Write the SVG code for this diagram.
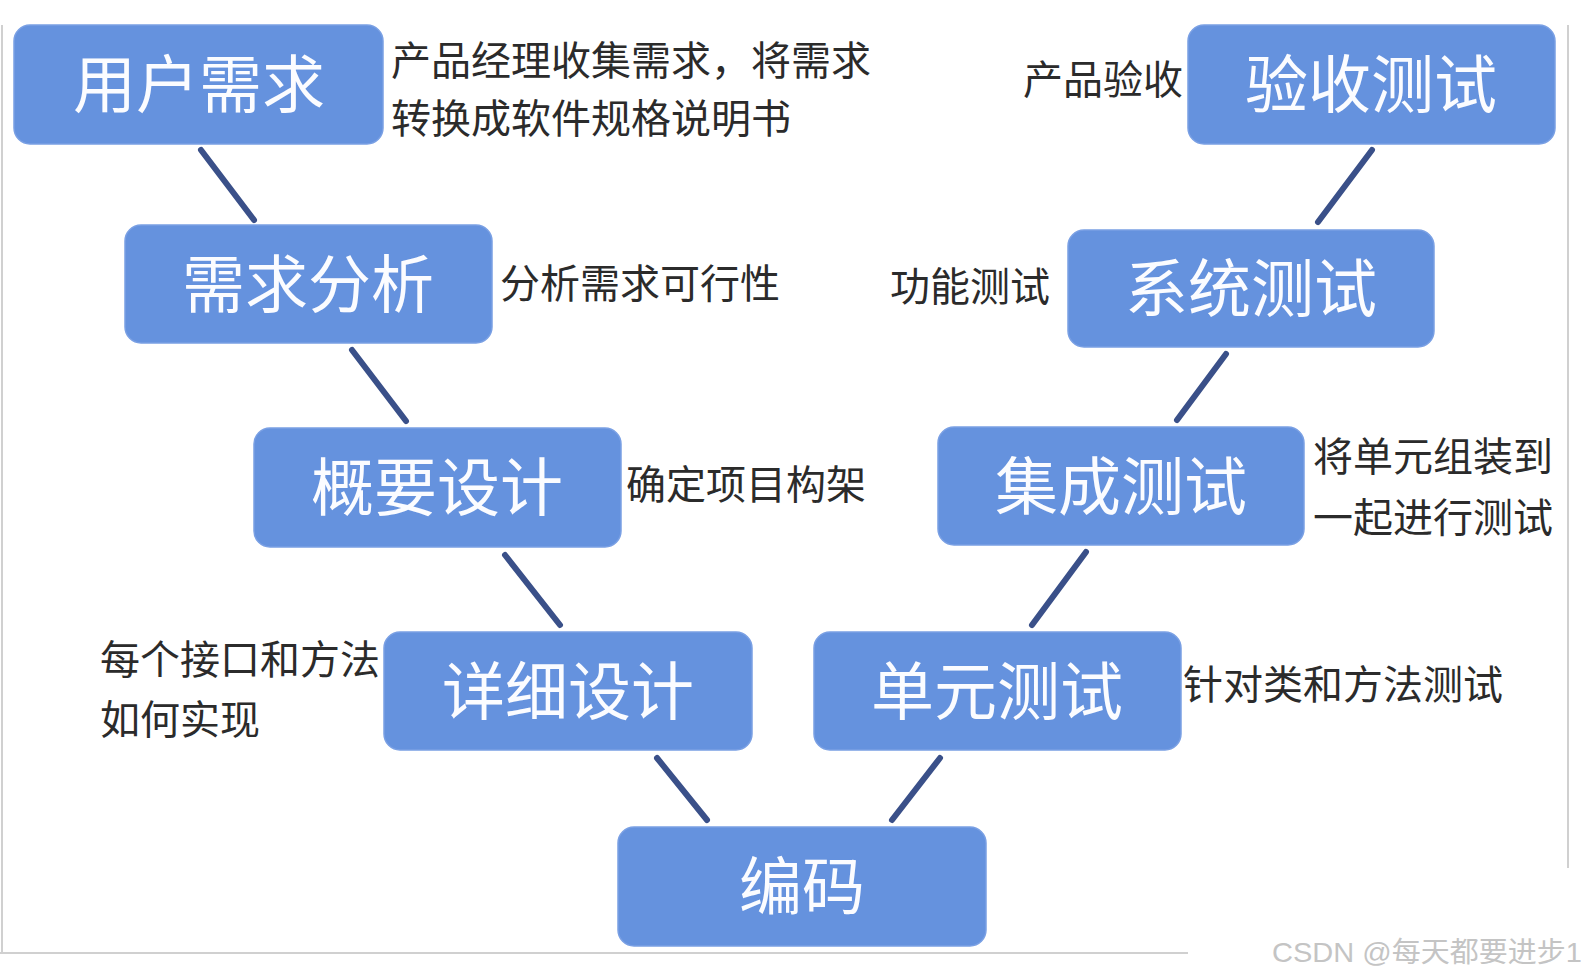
<svg xmlns="http://www.w3.org/2000/svg" width="1590" height="979" viewBox="0 0 1590 979">
<style>
.box{fill:#6592de;stroke:#7aa0e4;stroke-width:1.5}
.nt{font-family:"Noto Sans CJK SC","Noto Sans",sans-serif;font-size:63px;fill:#fbfcff;text-anchor:middle;dominant-baseline:central}
.an{font-family:"Noto Sans CJK SC","Noto Sans",sans-serif;font-size:40px;fill:#2b2b2b;dominant-baseline:central}
.cn{stroke:#3a5089;stroke-width:6;stroke-linecap:round;fill:none}
.edge{stroke:#d0d0d0;stroke-width:2;fill:none}
.wm{font-family:"Liberation Sans","Noto Sans CJK SC",sans-serif;font-size:28px;fill:#c4c4c4}
</style>
<rect width="1590" height="979" fill="#ffffff"/>
<g id="frame">
<line class="edge" x1="2" y1="25" x2="2" y2="953"/>
<line class="edge" x1="0" y1="953" x2="1188" y2="953" stroke="#ececec"/>
<line class="edge" x1="1568" y1="25" x2="1568" y2="868" stroke="#ececec"/>
</g>
<g id="connectors">
<line class="cn" x1="201" y1="150" x2="254" y2="220"/>
<line class="cn" x1="352" y1="350" x2="406" y2="421"/>
<line class="cn" x1="505" y1="555" x2="560" y2="625"/>
<line class="cn" x1="657" y1="758" x2="707" y2="820"/>
<line class="cn" x1="940" y1="758" x2="892" y2="820"/>
<line class="cn" x1="1086" y1="552" x2="1032" y2="625"/>
<line class="cn" x1="1226" y1="354" x2="1177" y2="420"/>
<line class="cn" x1="1372" y1="150" x2="1318" y2="222"/>
</g>
<g id="n1"><rect class="box" x="14" y="25" width="369" height="119" rx="16"/><text class="nt" x="199" y="79">用户需求</text></g>
<g id="n2"><rect class="box" x="125" y="225" width="367" height="118" rx="16"/><text class="nt" x="308" y="279">需求分析</text></g>
<g id="n3"><rect class="box" x="254" y="428" width="367" height="119" rx="16"/><text class="nt" x="437" y="482">概要设计</text></g>
<g id="n4"><rect class="box" x="384" y="632" width="368" height="118" rx="16"/><text class="nt" x="568" y="686">详细设计</text></g>
<g id="n5"><rect class="box" x="618" y="827" width="368" height="119" rx="16"/><text class="nt" x="802" y="881">编码</text></g>
<g id="n6"><rect class="box" x="814" y="632" width="367" height="118" rx="16"/><text class="nt" x="997" y="686">单元测试</text></g>
<g id="n7"><rect class="box" x="938" y="427" width="366" height="118" rx="16"/><text class="nt" x="1121" y="481">集成测试</text></g>
<g id="n8"><rect class="box" x="1068" y="230" width="366" height="117" rx="16"/><text class="nt" x="1251" y="283">系统测试</text></g>
<g id="n9"><rect class="box" x="1188" y="25" width="367" height="119" rx="16"/><text class="nt" x="1371" y="79">验收测试</text></g>
<g id="annotations">
<text class="an" x="391" y="58">产品经理收集需求，将需求</text>
<text class="an" x="391" y="116">转换成软件规格说明书</text>
<text class="an" x="500" y="281">分析需求可行性</text>
<text class="an" x="626" y="482">确定项目构架</text>
<text class="an" x="100" y="657">每个接口和方法</text>
<text class="an" x="100" y="717">如何实现</text>
<text class="an" x="1023" y="77">产品验收</text>
<text class="an" x="890" y="284">功能测试</text>
<text class="an" x="1313" y="454">将单元组装到</text>
<text class="an" x="1313" y="515">一起进行测试</text>
<text class="an" x="1183" y="682">针对类和方法测试</text>
</g>
<text class="wm" x="1272" y="962" textLength="310" lengthAdjust="spacingAndGlyphs">CSDN @每天都要进步1</text>
</svg>
